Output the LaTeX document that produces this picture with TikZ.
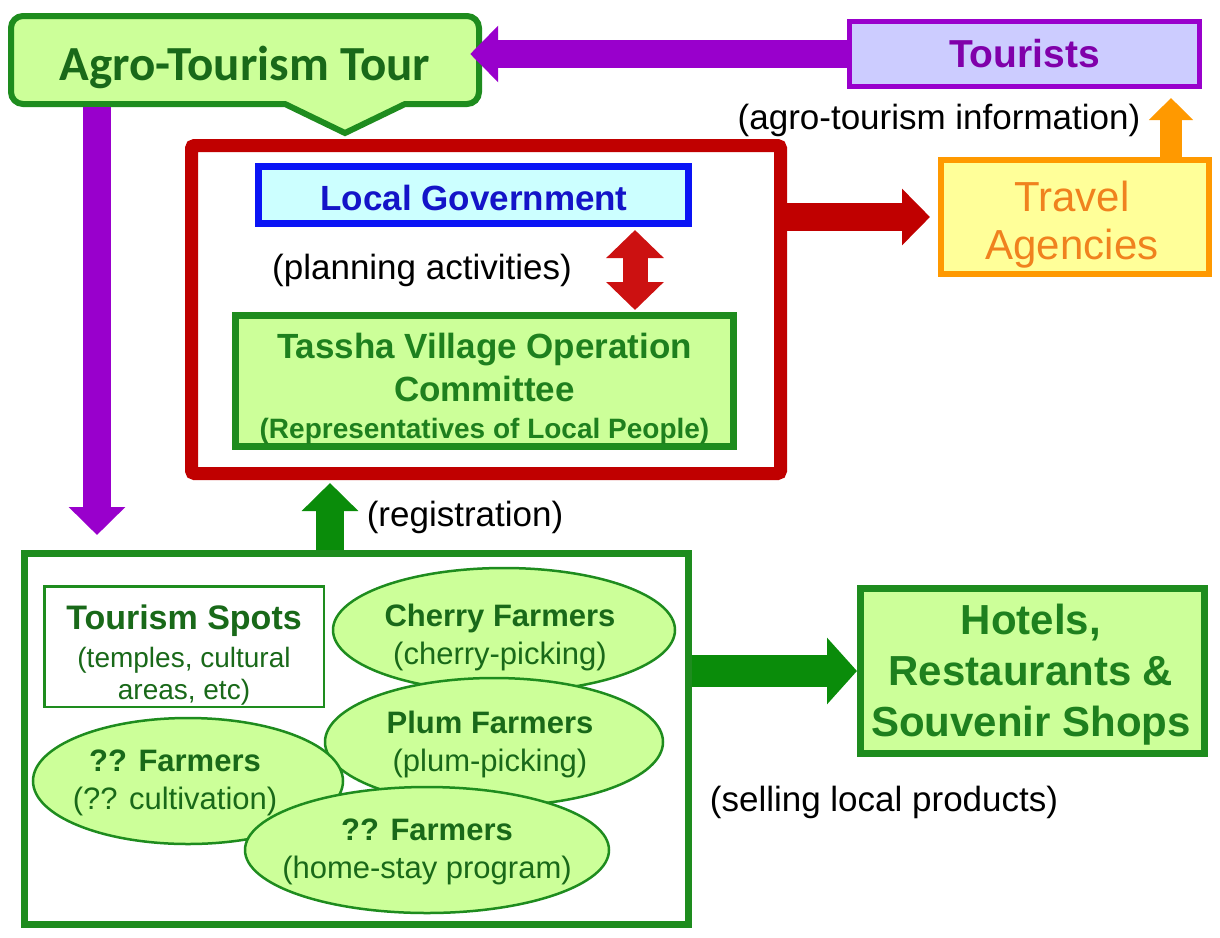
\documentclass[tikz,border=0pt]{standalone}
\usepackage{fontspec}
\setmainfont{Liberation Sans}
\newfontfamily\calib{Carlito}
\usetikzlibrary{arrows.meta,shapes.geometric,calc}
\definecolor{gline}{RGB}{30,140,30}
\definecolor{garrow}{RGB}{10,140,10}
\definecolor{gtext}{RGB}{30,128,30}
\definecolor{gdark}{RGB}{25,105,25}
\definecolor{lgreen}{RGB}{204,255,153}
\definecolor{purp}{RGB}{153,0,204}
\definecolor{purptext}{RGB}{128,0,170}
\definecolor{lav}{RGB}{204,204,255}
\definecolor{dred}{RGB}{192,0,0}
\definecolor{ared}{RGB}{204,17,17}
\definecolor{bblue}{RGB}{10,20,245}
\definecolor{bluetext}{RGB}{20,20,200}
\definecolor{lcyan}{RGB}{204,255,255}
\definecolor{orng}{RGB}{255,153,0}
\definecolor{orngtext}{RGB}{240,130,30}
\definecolor{lyellow}{RGB}{255,255,153}
\newcommand{\fs}[2]{\fontsize{#1}{#2}\selectfont}
\begin{document}
\begin{tikzpicture}[x=1pt,y=-1pt,
  box/.style={rectangle, inner sep=0pt},
  blockarrow/.style={line width=28pt, -{Triangle[length=28pt,width=55pt]}},
  lbl/.style={font=\fs{35}{40}, text=black, inner sep=0pt},
  farm/.style={ellipse, draw=gline, fill=lgreen, line width=2.5pt, inner sep=0pt},
  farmtext/.style={align=center, text=gdark, font=\fs{31}{38}, inner sep=0pt},
]
\useasboundingbox[fill=white] (0,0) rectangle (1220,937);

% Agro-Tourism Tour callout
\path[draw=gline, fill=lgreen, line width=6pt]
  (150,104) [rounded corners=12pt] -- (11,104) -- (11,16) -- (479,16) -- (479,104) -- (420,104)
  [sharp corners] -- (405,104) -- (345,133) -- (285,104) -- (270,104)
  [rounded corners=12pt] -- cycle;
\node[box, minimum width=468pt, minimum height=88pt] (agro) at (245,60) {};
\node[anchor=base, inner sep=0pt, text=gdark, font={\calib\bfseries\fs{49}{56}}] (agrolabel) at (245,80) {Agro-Tourism Tour};

% Tourists
\node[box, draw=purp, fill=lav, line width=5pt, minimum width=350pt, minimum height=65pt,
      text=purptext, font={\bfseries\fs{39}{44}}] (tourists) at (1024.5,54) {Tourists};

% Travel agencies
\node[box, draw=orng, fill=lyellow, line width=6pt, minimum width=268pt, minimum height=114pt] (travel) at (1075,217) {};
\node[align=center, inner sep=0pt, text=orngtext, font=\fs{42}{48}] (travellabel) at (1072,225) {Travel\\Agencies};

% Red container
\node[box, draw=dred, line width=13pt, rounded corners=3pt, minimum width=589pt, minimum height=328pt] (red) at (486,309.5) {};

% Local Government
\node[box, draw=bblue, fill=lcyan, line width=7pt, minimum width=430pt, minimum height=57pt] (lg) at (473.5,195) {};
\node[inner sep=0pt, text=bluetext, font={\bfseries\fs{35}{40}}] (lglabel) at (474,198) {Local Government};

% Tassha committee
\node[box, draw=gline, fill=lgreen, line width=7pt, minimum width=498pt, minimum height=131pt] (ts) at (484.5,381) {};
\node[align=center, inner sep=0pt, text=gtext, font={\bfseries\fs{35}{43}}] (tslabel) at (484.5,389)
  {Tassha Village Operation\\Committee\\[-6pt]{\fs{28}{35}(Representatives of Local People)}};

% Bottom box
\node[box, draw=gline, fill=white, line width=7pt, minimum width=664pt, minimum height=371pt] (bottom) at (356.5,739) {};

% Tourism spots
\node[box, draw=gline, fill=white, line width=2.5pt, minimum width=279.5pt, minimum height=120.5pt] (spots) at (184,646.5) {};
\node[align=center, inner sep=0pt, text=gdark, font=\fs{28}{32}] (spotslabel) at (184,655)
  {{\bfseries\fs{34}{38}Tourism Spots}\\[6pt](temples, cultural\\areas, etc)};

% Farmers
\node[farm, minimum width=342pt, minimum height=124pt] (cherry) at (504,630) {};
\node[farmtext] (cherrylabel) at (500,637) {\textbf{Cherry Farmers}\\(cherry-picking)};
\node[farm, minimum width=338pt, minimum height=128pt] (plum) at (494,742) {};
\node[farmtext] (plumlabel) at (490,744) {\textbf{Plum Farmers}\\(plum-picking)};
\node[farm, minimum width=310pt, minimum height=126pt] (cult) at (188,781) {};
\node[farmtext] (cultlabel) at (175,783) {\textbf{?? Farmers}\\(?? cultivation)};
\node[farm, minimum width=364pt, minimum height=126pt] (home) at (427,850) {};
\node[farmtext] (homelabel) at (427,852) {\textbf{?? Farmers}\\(home-stay program)};

% Hotels
\node[box, draw=gline, fill=lgreen, line width=7pt, minimum width=344pt, minimum height=165pt] (hotels) at (1032.5,671) {};
\node[align=center, inner sep=0pt, text=gtext, font={\bfseries\fs{42}{51}}] (hotelslabel) at (1031,675)
  {Hotels,\\Restaurants \&\\Souvenir Shops};

% Labels
\node[lbl] (infolabel) at (939,120) {(agro-tourism information)};
\node[lbl] (planlabel) at (422,270) {(planning activities)};
\node[lbl] (reglabel) at (465,517) {(registration)};
\node[lbl] (selllabel) at (884,802) {(selling local products)};

% Connectors
\coordinate (pcol) at (97,0);
\coordinate (ocol) at (1171,0);
\coordinate (dcol) at (635,0);
\coordinate (gcol) at (330,0);

\draw[blockarrow, draw=purp, fill=purp, shorten >=-9pt] (tourists.west) -- (tourists.west -| agro.east);
\draw[blockarrow, draw=purp, fill=purp, shorten <=3pt, shorten >=15pt] (agro.south -| pcol) -- (bottom.north -| pcol);
\draw[blockarrow, draw=dred, fill=dred, shorten >=8pt] (red.east |- travel.west) -- (travel.west);
\draw[line width=22pt, -{Triangle[length=22pt,width=43pt]}, draw=orng, fill=orng, shorten >=9pt] (travel.north -| ocol) -- (tourists.south -| ocol);
\draw[line width=25pt, {Triangle[length=28pt,width=56pt]}-{Triangle[length=28pt,width=56pt]}, draw=ared, fill=ared, shorten <=3pt, shorten >=2pt] (lg.south -| dcol) -- (ts.north -| dcol);
\draw[blockarrow, draw=garrow, fill=garrow, shorten >=3pt] (bottom.north -| gcol) -- (red.south -| gcol);
\draw[blockarrow, draw=garrow, fill=garrow, line width=32pt, -{Triangle[length=30pt,width=65pt]}] (bottom.east |- hotels.west) -- (hotels.west);
\end{tikzpicture}
\end{document}
